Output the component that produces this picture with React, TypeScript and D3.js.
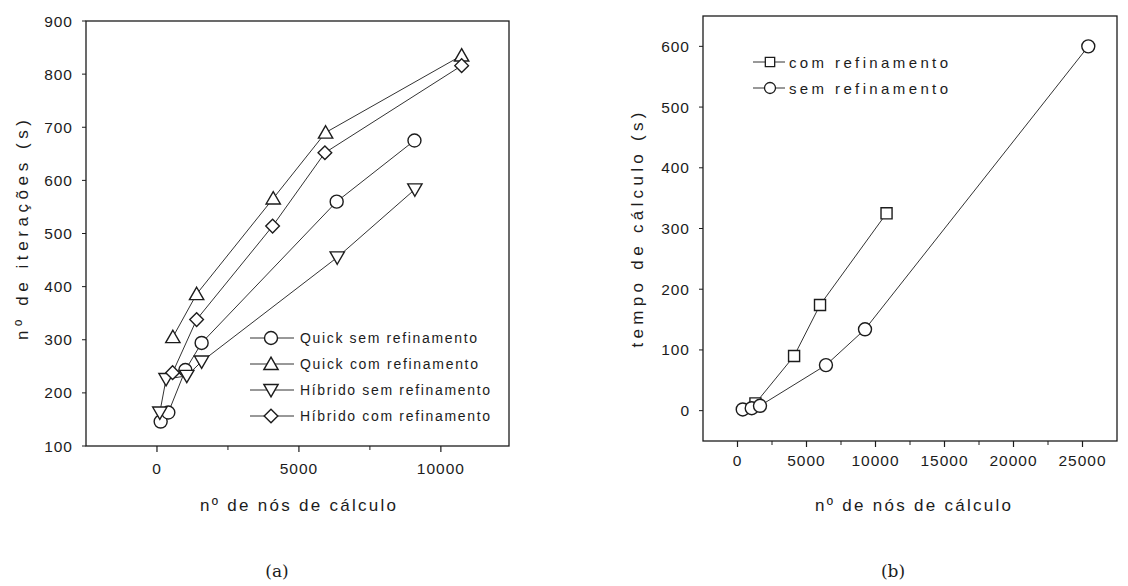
import React from "react";
import * as d3 from "d3";

// ---- panel (a): number of iterations vs number of computation nodes ----
const quickSemX = [130, 400, 1000, 1573, 6330, 9070];
const quickSemY = [146, 163, 243, 294, 560, 675];
const quickComX = [560, 1397, 4095, 5940, 10732];
const quickComY = [305, 386, 566, 690, 835];
const hibridoSemX = [100, 320, 1050, 1573, 6350, 9085];
const hibridoSemY = [163, 226, 232, 259, 455, 583];
const hibridoComX = [550, 1397, 4073, 5915, 10732];
const hibridoComY = [238, 338, 514, 652, 816];

const legendA = [
  "Quick sem refinamento",
  "Quick com refinamento",
  "Híbrido sem refinamento",
  "Híbrido com refinamento",
];

const xTicksA = [0, 5000, 10000];
const xMinorA = [2500, 7500];
const yTicksA = [100, 200, 300, 400, 500, 600, 700, 800, 900];

// ---- panel (b): computation time vs number of computation nodes ----
const comRefX = [1300, 4100, 5980, 10800];
const comRefY = [12, 90, 174, 325];
const semRefX = [380, 1030, 1630, 6410, 9240, 25420];
const semRefY = [2, 4, 8, 75, 134, 600];

const legendB = ["com refinamento", "sem refinamento"];

const xTicksB = [0, 5000, 10000, 15000, 20000, 25000];
const xMinorB = [2500, 7500, 12500, 17500, 22500];
const yTicksB = [0, 100, 200, 300, 400, 500, 600];

const SANS = "'Liberation Sans Narrow', 'Liberation Sans', Arial, sans-serif";
const INK = "#1c1c1c";

type Shape = "circle" | "up" | "down" | "diamond" | "square";

function markerPath(shape: Shape, cx: number, cy: number, s: number): string {
  const r = s / 2;
  switch (shape) {
    case "circle": {
      const p = d3.path();
      p.arc(cx, cy, r, 0, Math.PI * 2);
      p.closePath();
      return p.toString();
    }
    case "up":
      return `M${cx},${cy - r * 1.05}L${cx + r * 1.1},${cy + r * 0.85}L${cx - r * 1.1},${cy + r * 0.85}Z`;
    case "down":
      return `M${cx},${cy + r * 1.05}L${cx + r * 1.1},${cy - r * 0.85}L${cx - r * 1.1},${cy - r * 0.85}Z`;
    case "diamond":
      return `M${cx},${cy - r * 1.05}L${cx + r * 1.05},${cy}L${cx},${cy + r * 1.05}L${cx - r * 1.05},${cy}Z`;
    case "square":
      return `M${cx - r * 0.85},${cy - r * 0.85}h${r * 1.7}v${r * 1.7}h${-r * 1.7}Z`;
  }
}

type Series = { xs: number[]; ys: number[]; shape: Shape };

function Panel({
  x,
  y,
  series,
  xTicks,
  xMinor,
  yTicks,
  xLabelY,
  yLabelX,
  closedBox,
  markerSize,
}: {
  x: d3.ScaleLinear<number, number>;
  y: d3.ScaleLinear<number, number>;
  series: Series[];
  xTicks: number[];
  xMinor: number[];
  yTicks: number[];
  xLabelY: number;
  yLabelX: number;
  closedBox: boolean;
  markerSize: number;
}) {
  const [x0, x1] = x.range();
  const [y0, y1] = y.range();
  const line = d3
    .line<[number, number]>()
    .x((d) => x(d[0]))
    .y((d) => y(d[1]));
  return (
    <g>
      {/* frame */}
      <rect
        x={x0}
        y={y1}
        width={x1 - x0}
        height={y0 - y1}
        fill="none"
        stroke={INK}
        strokeWidth={1.3}
      />
      {/* x ticks */}
      {xTicks.map((t) => (
        <line key={"xt" + t} x1={x(t)} x2={x(t)} y1={y0} y2={y0 + 6} stroke={INK} strokeWidth={1.2} />
      ))}
      {xMinor.map((t) => (
        <line key={"xm" + t} x1={x(t)} x2={x(t)} y1={y0} y2={y0 + 4} stroke={INK} strokeWidth={1} />
      ))}
      {xTicks.map((t) => (
        <text
          key={"xl" + t}
          x={x(t)}
          y={xLabelY}
          textAnchor="middle"
          dominantBaseline="central"
          fontFamily={SANS}
          fontSize={15.5}
          letterSpacing={1}
          fill={INK}
        >
          {t}
        </text>
      ))}
      {/* y ticks */}
      {yTicks.map((t) => (
        <line key={"yt" + t} x1={x0 - 4} x2={x0} y1={y(t)} y2={y(t)} stroke={INK} strokeWidth={1} />
      ))}
      {yTicks.map((t) => (
        <text
          key={"yl" + t}
          x={yLabelX}
          y={y(t)}
          textAnchor="end"
          dominantBaseline="central"
          fontFamily={SANS}
          fontSize={15.5}
          letterSpacing={1}
          fill={INK}
        >
          {t}
        </text>
      ))}
      {/* series */}
      {series.map((s, i) => {
        const pts = s.xs.map((v, j) => [v, s.ys[j]] as [number, number]);
        return (
          <g key={"s" + i}>
            <path d={line(pts) ?? ""} fill="none" stroke="#333" strokeWidth={1} />
          </g>
        );
      })}
      {series.map((s, i) => (
        <g key={"m" + i}>
          {s.xs.map((v, j) => (
            <path
              key={j}
              d={markerPath(s.shape, x(v), y(s.ys[j]), markerSize)}
              fill="white"
              stroke={INK}
              strokeWidth={1.4}
            />
          ))}
        </g>
      ))}
      {closedBox ? null : null}
    </g>
  );
}

export default function App() {
  const xA = d3.scaleLinear().domain([-2500, 12400]).range([86, 509]);
  const yA = d3.scaleLinear().domain([100, 900]).range([446, 21]);
  const xB = d3.scaleLinear().domain([-2500, 27500]).range([703, 1117]);
  const yB = d3.scaleLinear().domain([-50, 650]).range([441, 16]);

  const seriesA: Series[] = [
    { xs: quickSemX, ys: quickSemY, shape: "circle" },
    { xs: quickComX, ys: quickComY, shape: "up" },
    { xs: hibridoSemX, ys: hibridoSemY, shape: "down" },
    { xs: hibridoComX, ys: hibridoComY, shape: "diamond" },
  ];
  const seriesB: Series[] = [
    { xs: comRefX, ys: comRefY, shape: "square" },
    { xs: semRefX, ys: semRefY, shape: "circle" },
  ];

  const legendShapesA: Shape[] = ["circle", "up", "down", "diamond"];
  const legendWidthsA = [177, 178, 190, 190];
  const legendShapesB: Shape[] = ["square", "circle"];

  return (
    <svg
      width={1128}
      height={586}
      viewBox="0 0 1128 586"
      style={{ position: "absolute", left: 0, top: 0, background: "white" }}
    >
      <rect width={1128} height={586} fill="white" />

      <Panel
        x={xA}
        y={yA}
        series={seriesA}
        xTicks={xTicksA}
        xMinor={xMinorA}
        yTicks={yTicksA}
        xLabelY={468}
        yLabelX={73}
        closedBox
        markerSize={13}
      />
      <Panel
        x={xB}
        y={yB}
        series={seriesB}
        xTicks={xTicksB}
        xMinor={xMinorB}
        yTicks={yTicksB}
        xLabelY={460}
        yLabelX={690}
        closedBox
        markerSize={13}
      />

      {/* legend (a) */}
      {legendA.map((name, i) => {
        const ly = 338 + i * 26;
        return (
          <g key={name}>
            <line x1={250} x2={294} y1={ly} y2={ly} stroke="#333" strokeWidth={1} />
            <path
              d={markerPath(legendShapesA[i], 271, ly, 13)}
              fill="white"
              stroke={INK}
              strokeWidth={1.4}
            />
            <text
              x={300}
              y={ly}
              dominantBaseline="central"
              fontFamily={SANS}
              fontSize={14}
              textLength={legendWidthsA[i]}
              lengthAdjust="spacing"
              fill={INK}
            >
              {name}
            </text>
          </g>
        );
      })}

      {/* legend (b) */}
      {legendB.map((name, i) => {
        const ly = 62 + i * 26;
        return (
          <g key={name}>
            <line x1={753} x2={785} y1={ly} y2={ly} stroke="#333" strokeWidth={1} />
            <path
              d={markerPath(legendShapesB[i], 770, ly, 11)}
              fill="white"
              stroke={INK}
              strokeWidth={1.3}
            />
            <text
              x={789}
              y={ly}
              dominantBaseline="central"
              fontFamily={SANS}
              fontSize={15}
              textLength={159}
              lengthAdjust="spacing"
              fill={INK}
            >
              {name}
            </text>
          </g>
        );
      })}

      {/* axis titles */}
      <text
        x={298}
        y={505}
        textAnchor="middle"
        dominantBaseline="central"
        fontFamily={SANS}
        fontSize={17}
        textLength={196}
        lengthAdjust="spacing"
        fill={INK}
      >
        nº de nós de cálculo
      </text>
      <text
        transform="translate(22,230) rotate(-90)"
        textAnchor="middle"
        dominantBaseline="central"
        fontFamily={SANS}
        fontSize={17}
        textLength={220}
        lengthAdjust="spacing"
        fill={INK}
      >
        nº de iterações (s)
      </text>
      <text
        x={913}
        y={505}
        textAnchor="middle"
        dominantBaseline="central"
        fontFamily={SANS}
        fontSize={17}
        textLength={196}
        lengthAdjust="spacing"
        fill={INK}
      >
        nº de nós de cálculo
      </text>
      <text
        transform="translate(637,230) rotate(-90)"
        textAnchor="middle"
        dominantBaseline="central"
        fontFamily={SANS}
        fontSize={17}
        textLength={235}
        lengthAdjust="spacing"
        fill={INK}
      >
        tempo de cálculo (s)
      </text>

      {/* panel captions */}
      <text
        x={277}
        y={571}
        textAnchor="middle"
        dominantBaseline="central"
        fontFamily="'DejaVu Serif', 'Liberation Serif', serif"
        fontSize={17}
        fill={INK}
      >
        (a)
      </text>
      <text
        x={893}
        y={571}
        textAnchor="middle"
        dominantBaseline="central"
        fontFamily="'DejaVu Serif', 'Liberation Serif', serif"
        fontSize={17}
        fill={INK}
      >
        (b)
      </text>
    </svg>
  );
}
